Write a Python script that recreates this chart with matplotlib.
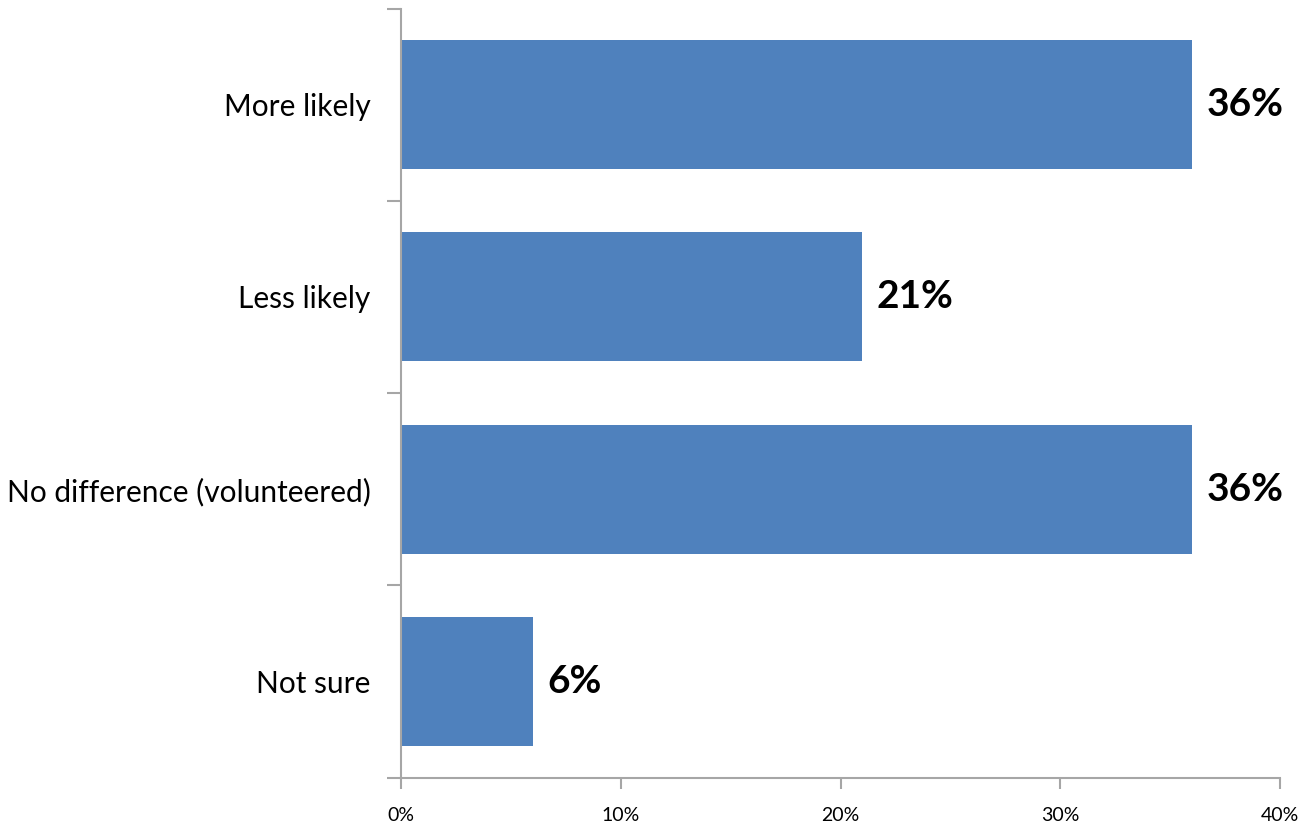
import matplotlib
matplotlib.use("Agg")
import matplotlib.pyplot as plt
from matplotlib.ticker import FixedLocator, PercentFormatter

categories = ["More likely", "Less likely", "No difference (volunteered)", "Not sure"]
values = [36, 21, 36, 6]
x_ticks = [0, 10, 20, 30, 40]

plt.rcParams["font.family"] = ["Lato", "DejaVu Sans"]

fig = plt.figure(figsize=(13.14, 8.27), dpi=100)
ax = fig.add_axes([401 / 1314, 1 - 777.5 / 827, (1280 - 401) / 1314, (777.5 - 8.5) / 827])

bar_color = "#4F81BD"
spine_color = "#A6A6A6"
ypos = list(range(len(categories)))
ax.barh(ypos, values, height=0.67, color=bar_color, zorder=2)

for y, v in zip(ypos, values):
    ax.text(v + 0.65, y, f"{v}%", va="center", ha="left",
            fontsize=28, fontweight="bold", color="black")

ax.set_xlim(0, 40)
ax.set_ylim(len(categories) - 0.5, -0.5)

ax.set_xticks(x_ticks)
ax.xaxis.set_major_formatter(PercentFormatter(decimals=0))
ax.tick_params(axis="x", length=8, width=1.5, color=spine_color,
               labelsize=14, pad=13)

ax.set_yticks(ypos)
ax.set_yticklabels(categories)
ax.yaxis.set_minor_locator(FixedLocator([i - 0.5 for i in range(len(categories) + 1)]))
ax.tick_params(axis="y", which="major", length=0, labelsize=21.5, pad=22)
ax.tick_params(axis="y", which="minor", length=10, width=1.5, color=spine_color)

for side in ("top", "right"):
    ax.spines[side].set_visible(False)
for side in ("left", "bottom"):
    ax.spines[side].set_color(spine_color)
    ax.spines[side].set_linewidth(1.5)

fig.savefig("out.png", dpi=100, facecolor="white")
